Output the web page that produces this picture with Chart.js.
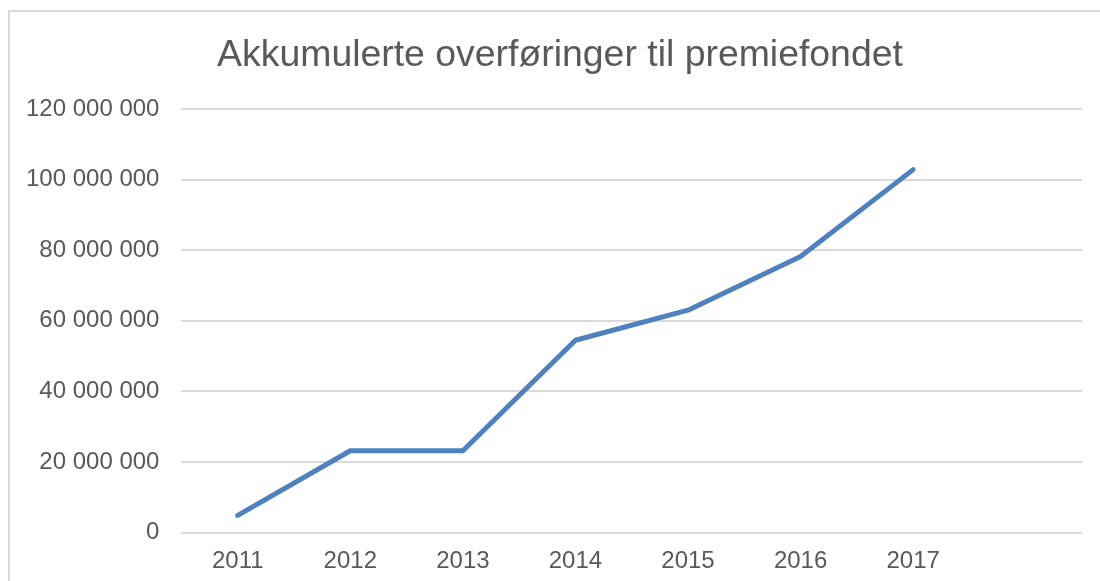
<!DOCTYPE html>
<html>
<head>
<meta charset="utf-8">
<script src="https://cdn.jsdelivr.net/npm/chart.js@4/dist/chart.umd.min.js"></script>
<style>
  html, body { margin: 0; padding: 0; background: #fff; overflow: hidden; }
  #frame {
    position: absolute; left: 8px; top: 10px; width: 1200px; height: 700px;
    border-top: 2px solid #d9d9d9; border-left: 2px solid #d9d9d9;
  }
  #chart { position: absolute; left: 0; top: 0; }
</style>
</head>
<body>
<div id="frame"></div>
<canvas id="chart" width="1120" height="583"></canvas>
<script>
  // years on the x axis, last slot left empty like the original
  const years = ["2011", "2012", "2013", "2014", "2015", "2016", "2017", ""];
  const transfers = [4900000, 23200000, 23200000, 54500000, 63000000, 78200000, 102800000, null];
  const title = "Akkumulerte overføringer til premiefondet";

  const fontFamily = "'Liberation Sans', Arial, sans-serif";
  const textColor = "#595959";

  function spaced(v) {
    return String(v).replace(/\B(?=(\d{3})+(?!\d))/g, " ");
  }

  // the original title is centred on the whole frame, not on the plot
  const centreTitle = {
    id: "centreTitle",
    afterLayout: function(chart) {
      if (chart.titleBlock) {
        chart.titleBlock.left = 38;
        chart.titleBlock.right = 1082;
      }
    }
  };

  let ctx = document.getElementById("chart");
  let myChart = new Chart(ctx, {
    type: "line",
    data: {
      labels: years,
      datasets: [{
        data: transfers,
        borderColor: "#4f81bd",
        borderWidth: 5,
        borderCapStyle: "round",
        borderJoinStyle: "round",
        pointRadius: 0,
        fill: false,
        tension: 0
      }]
    },
    options: {
      responsive: false,
      animation: false,
      layout: { padding: { left: 4, right: 38, top: 0, bottom: 0.5 } },
      plugins: {
        legend: { display: false },
        tooltip: { enabled: false },
        title: {
          display: true,
          text: title,
          color: textColor,
          font: { family: fontFamily, size: 37.4, weight: "normal" },
          padding: { top: 33, bottom: 31 }
        }
      },
      scales: {
        x: {
          offset: true,
          grid: { display: false },
          border: { display: false },
          ticks: {
            color: textColor,
            font: { family: fontFamily, size: 24 },
            padding: 6.5,
            maxRotation: 0,
            autoSkip: false
          }
        },
        y: {
          min: 0,
          max: 120000000,
          grid: { color: "#d9d9d9", lineWidth: 2, drawTicks: false },
          border: { display: false },
          ticks: {
            stepSize: 20000000,
            color: textColor,
            font: { family: fontFamily, size: 24 },
            padding: 22,
            callback: function(v) { return spaced(v); }
          }
        }
      }
    },
    plugins: [centreTitle]
  });
</script>
</body>
</html>
